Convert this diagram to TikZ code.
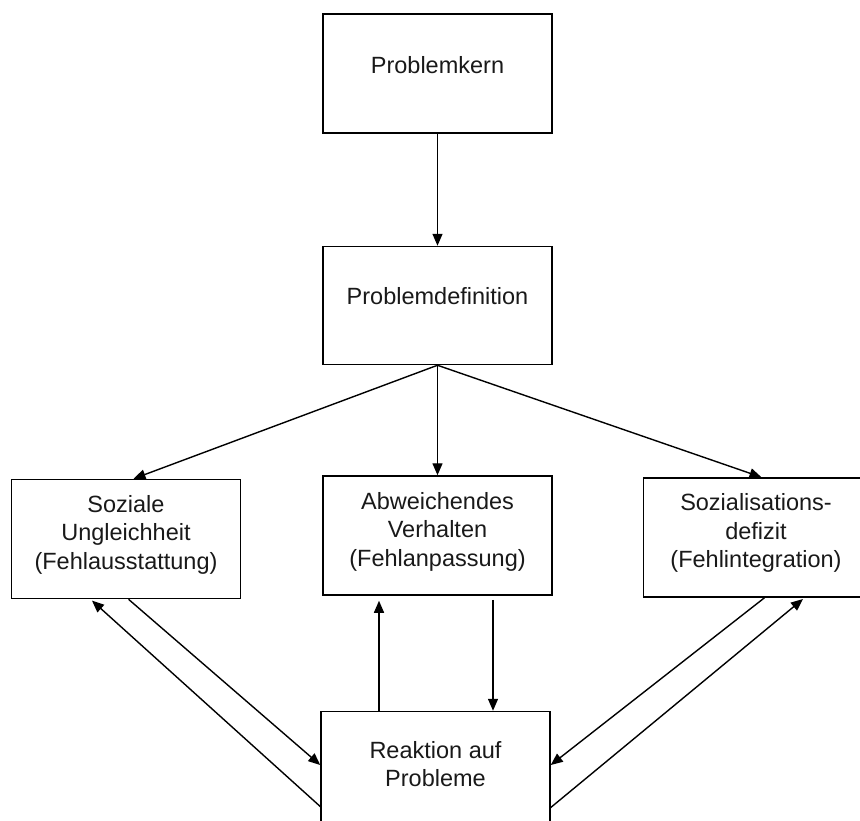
\documentclass[tikz,border=0pt]{standalone}
\usepackage{fontspec}
\setmainfont{Liberation Sans}
\usetikzlibrary{arrows.meta}
\usetikzlibrary{positioning}
\tikzstyle{kasten} = [rectangle, draw=black, line width=1.5pt, minimum width=229pt, minimum height=119pt, inner sep=0pt]
\tikzstyle{txt} = [align=center, text=black!90, font=\fontsize{23.5}{28.5}\selectfont, inner sep=0pt]
\tikzstyle{aro} = [-{Triangle[length=12pt,width=10pt]}, line width=1.4pt]

\begin{document}
\begin{tikzpicture}[x=1pt, y=1pt]
  \useasboundingbox (0,0) rectangle (860,-820);

  \node (kern) [kasten] at (437.5,-73.5) {};
  \node (definition) [kasten, below=112pt of kern, minimum height=118pt] {};
  \node (abweich) [kasten, below=110pt of definition] {};
  \node (ungleich) [kasten, left=81pt of abweich, yshift=-3.5pt] {};
  \node (sozdef) [kasten, right=90pt of abweich, yshift=-2pt] {};
  \node (reaktion) [kasten, below=115pt of abweich, xshift=-2pt] {};

  \node (kerntxt) [txt] at ([yshift=8pt]kern.center) {Problemkern};
  \node (definitiontxt) [txt] at ([yshift=9pt]definition.center) {Problemdefinition};
  \node (ungleichtxt) [txt] at ([yshift=4.5pt]ungleich.center) {Soziale\\Ungleichheit\\(Fehlausstattung)};
  \node (abweichtxt) [txt] at ([yshift=4pt]abweich.center) {Abweichendes\\Verhalten\\(Fehlanpassung)};
  \node (sozdeftxt) [txt] at ([xshift=-2pt,yshift=4.5pt]sozdef.center) {Sozialisations-\\defizit\\(Fehlintegration)};
  \node (reaktiontxt) [txt] at ([yshift=7pt]reaktion.center) {Reaktion auf\\Probleme};

  \draw [aro] (kern) -- (definition);

  \draw [aro] (definition.south) -- ([xshift=7.5pt]ungleich.north);
  \draw [aro] (definition.south) -- (abweich.north);
  \draw [aro] (definition.south) -- ([xshift=3.5pt]sozdef.north);

  \draw [aro, shorten <=4pt] ([xshift=55.5pt]abweich.south) -- ([xshift=57.5pt]reaktion.north);
  \draw [aro, shorten >=5pt] ([xshift=-56.5pt]reaktion.north) -- ([xshift=-58.5pt]abweich.south);

  \draw [aro] ([xshift=2.5pt]ungleich.south) -- ([yshift=6pt]reaktion.west);
  \draw [aro, shorten >=2pt] ([yshift=-35.5pt]reaktion.west) -- ([xshift=-35.5pt]ungleich.south);

  \draw [aro] ([xshift=6.5pt]sozdef.south) -- ([yshift=6pt]reaktion.east);
  \draw [aro, shorten >=2pt] ([yshift=-36.5pt]reaktion.east) -- ([xshift=46.5pt]sozdef.south);

\end{tikzpicture}
\end{document}
